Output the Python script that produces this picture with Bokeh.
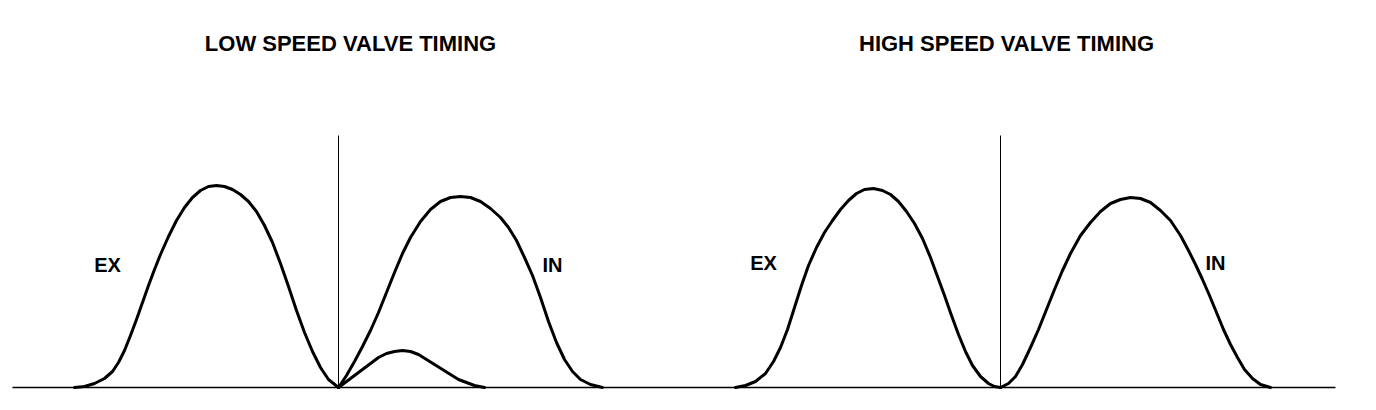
from bokeh.plotting import figure
from bokeh.models import Range1d
from bokeh.core.properties import value
from bokeh.embed import file_html
from bokeh.resources import INLINE

# ---- data (x = cam position units, lift = valve lift units) ----
titles = ["LOW SPEED VALVE TIMING", "HIGH SPEED VALVE TIMING"]
title_x = [350, 1006]
title_lift = [344, 344]
curve_labels = ["EX", "IN", "EX", "IN"]
curve_label_x = [107, 552, 763, 1215]
curve_label_lift = [123, 123, 125, 125]

tdc_x = [338, 1000]          # vertical reference lines
tdc_top = 252
base_start, base_end = 12, 1335

low_ex_x = [74, 84, 94, 104, 112, 118, 124, 130, 136, 142, 148, 154, 160, 168, 176, 184,
            192, 200, 208, 216, 224, 232, 240, 248, 256, 264, 272, 280, 288, 296, 304,
            312, 320, 328, 338]
low_ex_lift = [0, 1, 4, 9, 16, 25, 37, 52, 68, 85, 102, 118, 133, 151, 167, 180,
               190, 197, 201, 202, 201, 198, 193, 186, 176, 162, 145, 124, 101, 77, 55,
               36, 20, 8, 0]

low_in_x = [338, 346, 354, 362, 370, 378, 386, 394, 402, 410, 420, 430, 440, 450, 460, 470,
            480, 490, 500, 508, 516, 524, 532, 540, 548, 556, 564, 572, 580, 590, 602]
low_in_lift = [0, 12, 26, 41, 57, 75, 95, 115, 134, 150, 166, 178, 186, 190, 191, 190,
               186, 179, 170, 160, 147, 130, 112, 90, 66, 45, 28, 16, 8, 3, 0]

low_sec_x = [338, 346, 354, 362, 370, 378, 386, 394, 402, 410, 418, 426, 434, 442, 450,
             458, 466, 474, 484]
low_sec_lift = [0, 6, 12, 18, 24, 30, 34, 36, 37, 36, 33, 28, 23, 18, 13, 8, 5, 2, 0]

high_ex_x = [735, 745, 755, 765, 773, 780, 787, 794, 801, 808, 816, 824, 832, 840, 848, 856,
             864, 873, 882, 890, 898, 906, 914, 922, 930, 937, 944, 951, 958, 965, 972, 980,
             988, 994, 1000]
high_ex_lift = [0, 2, 6, 14, 26, 40, 58, 80, 102, 122, 140, 155, 167, 178, 187, 194,
                198, 199, 197, 193, 186, 176, 164, 149, 130, 111, 92, 72, 53, 36, 22, 11,
                4, 1, 0]

high_in_x = [1000, 1008, 1015, 1022, 1030, 1038, 1046, 1054, 1062, 1070, 1080, 1090, 1100,
             1110, 1120, 1130, 1140, 1150, 1160, 1170, 1180, 1188, 1195, 1202, 1209, 1216,
             1223, 1230, 1237, 1244, 1252, 1260, 1270]
high_in_lift = [0, 4, 11, 23, 40, 58, 78, 98, 117, 134, 152, 165, 176, 184, 188, 190,
                189, 185, 177, 167, 152, 137, 123, 108, 92, 75, 58, 43, 30, 18, 9, 3, 0]

FONT = value("Liberation Sans")

p = figure(width=1360, height=394, x_range=Range1d(0, 1360), y_range=Range1d(-7, 387),
           x_axis_type=None, y_axis_type=None, toolbar_location=None,
           output_backend="svg", min_border=0, outline_line_color=None,
           background_fill_color="white", border_fill_color="white")
p.grid.visible = False

# baseline (zero lift)
p.line([base_start, base_end], [0, 0], line_color="black", line_width=1.3)
# TDC verticals
p.segment(x0=tdc_x, y0=[0, 0], x1=tdc_x, y1=[tdc_top, tdc_top], line_color="black", line_width=1)

for xs, ys in [(low_ex_x, low_ex_lift), (low_in_x, low_in_lift), (low_sec_x, low_sec_lift),
               (high_ex_x, high_ex_lift), (high_in_x, high_in_lift)]:
    p.line(xs, ys, line_color="black", line_width=3, line_join="round", line_cap="round")

p.text(x=title_x, y=title_lift, text=titles, text_font=FONT, text_font_style="bold",
       text_font_size="22px", text_align="center", text_baseline="middle", text_color="black")
p.text(x=curve_label_x, y=curve_label_lift, text=curve_labels, text_font=FONT,
       text_font_style="bold", text_font_size="20px", text_align="center",
       text_baseline="middle", text_color="black")

open("out.html", "w").write(file_html(p, INLINE))
